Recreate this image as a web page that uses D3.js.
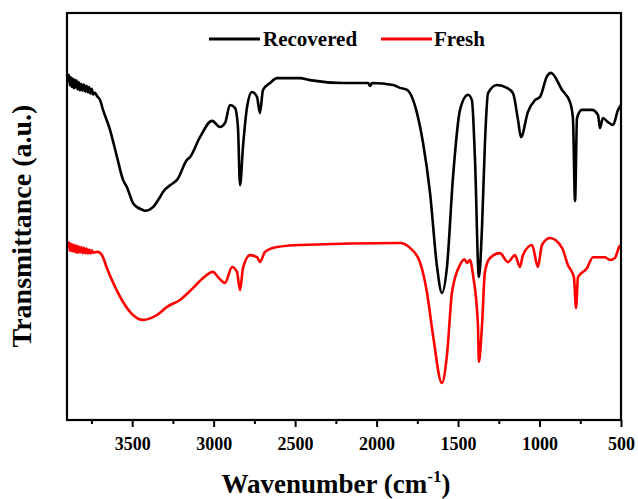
<!DOCTYPE html>
<html><head><meta charset="utf-8">
<script src="https://cdn.jsdelivr.net/npm/d3@7"></script>
<style>body{margin:0;background:#fff}svg{display:block}</style>
</head><body>
<svg id="c" width="638" height="499"></svg>
<script>
// Wavenumber (cm-1) and transmittance (a.u.)
const recoveredWn = [3894,3888,3882,3876,3870,3864,3858,3852,3846,3840,3834,3828,3820,3812,3804,3796,3788,3780,3772,3764,3756,3748,3740,3728,3716,3697,3679,3636,3593,3556,3532,3495,3470,3434,3421,3372,3329,3311,3249,3225,3164,3145,3084,3010,2961,2930,2900,2869,2851,2838,2820,2795,2765,2734,2716,2697,2654,2611,2470,2409,2206,2052,2040,2028,1899,1856,1813,1752,1715,1672,1629,1599,1568,1531,1488,1439,1415,1396,1372,1353,1335,1316,1261,1200,1163,1132,1114,1071,1028,997,954,930,862,813,795,782,770,740,678,641,629,611,580,549,518,500];
const recoveredT = [83.0,84.8,82.2,84.2,81.8,83.9,81.5,83.6,81.7,83.4,81.2,83.0,81.0,82.6,80.9,82.4,80.7,82.1,80.5,81.8,80.2,81.4,80.0,80.4,79.6,78.6,76.2,71.3,64.6,59.0,57.2,53.3,52.3,51.6,51.4,52.3,54.8,56.0,58.2,59.0,63.9,64.6,69.5,73.5,72.0,73.0,77.4,76.7,72.0,57.7,67.1,76.9,80.6,79.4,75.4,81.1,82.8,84.0,84.0,83.5,82.8,82.8,82.1,82.8,82.3,81.6,81.1,75.4,68.1,55.8,37.6,31.2,37.6,59.7,76.2,79.9,78.6,63.9,35.1,47.4,68.1,80.3,82.3,81.6,80.3,73.7,69.5,75.7,78.6,79.4,84.5,85.3,81.1,78.1,74.2,53.8,74.2,76.2,76.2,74.9,71.7,74.2,73.2,72.5,76.2,77.4];
const freshWn = [3894,3888,3882,3876,3870,3864,3858,3852,3846,3840,3834,3828,3820,3812,3804,3796,3788,3780,3772,3764,3756,3748,3740,3712,3685,3655,3605,3556,3495,3434,3348,3286,3207,3127,3065,3004,2973,2930,2887,2857,2838,2820,2777,2734,2716,2685,2611,2470,1856,1795,1734,1691,1654,1599,1568,1537,1488,1460,1445,1427,1408,1378,1372,1353,1335,1304,1243,1194,1151,1120,1102,1046,1010,985,936,862,826,789,776,764,709,672,598,568,537,512,500];
const freshT = [42.3,43.6,41.6,43.3,41.5,43.1,41.4,42.9,41.2,42.8,41.1,42.6,41.2,42.5,41.0,42.3,41.0,42.1,40.9,41.9,40.9,41.7,41.1,41.3,40.5,37.3,32.7,29.0,25.8,24.6,25.8,27.8,29.5,32.4,34.9,36.4,35.1,33.7,37.6,36.4,31.9,37.3,40.5,40.0,38.8,41.3,42.5,43.0,43.5,42.3,38.8,31.4,20.9,9.1,16.0,31.4,38.1,39.5,38.6,39.3,35.6,23.3,14.3,23.3,36.4,39.8,41.0,38.8,40.5,37.6,40.5,43.0,37.6,43.0,44.7,42.3,38.1,35.1,27.5,35.1,37.3,40.0,40.0,39.3,39.8,42.5,43.0];
const xTicks = [3500,3000,2500,2000,1500,1000,500];
const xMinorTicks = [3750,3250,2750,2250,1750,1250,750];
const seriesNames = ["Recovered","Fresh"];
const seriesColors = ["#000000","#ff0000"];

const svg = d3.select("#c");
const L=67, R=621, T=13, B=420;
const x = d3.scaleLinear().domain([3900,500]).range([L,R]);
const y = d3.scaleLinear().domain([0,100]).range([B,T]);
const font = "'Liberation Serif','Times New Roman',serif";

const series = [
  {name:seriesNames[0], color:seriesColors[0], pts:recoveredWn.map((w,i)=>[w,recoveredT[i]])},
  {name:seriesNames[1], color:seriesColors[1], pts:freshWn.map((w,i)=>[w,freshT[i]])}
];
const line = d3.line().x(d=>x(d[0])).y(d=>y(d[1])).curve(d3.curveMonotoneX);
svg.append("clipPath").attr("id","cp").append("rect").attr("x",L).attr("y",T).attr("width",R-L).attr("height",B-T);
const g = svg.append("g").attr("clip-path","url(#cp)");
[series[1],series[0]].forEach(s=>{
  g.append("path").datum(s.pts).attr("d",line).attr("fill","none")
   .attr("stroke",s.color).attr("stroke-width",2.6).attr("stroke-linejoin","round");
});

// frame
svg.append("rect").attr("x",L).attr("y",T).attr("width",R-L).attr("height",B-T)
  .attr("fill","none").attr("stroke","#000").attr("stroke-width",2.2);

// x axis
const ax = svg.append("g").attr("transform",`translate(0,${B})`)
  .call(d3.axisBottom(x).tickValues(xTicks).tickSize(7).tickPadding(10).tickFormat(d3.format("d")));
ax.select(".domain").remove();
ax.selectAll(".tick line").attr("stroke","#000").attr("stroke-width",2);
ax.selectAll(".tick text").attr("font-family",font).attr("font-weight","bold")
  .attr("font-size",18).attr("fill","#000");
const axm = svg.append("g").attr("transform",`translate(0,${B})`)
  .call(d3.axisBottom(x).tickValues(xMinorTicks).tickSize(4).tickFormat(""));
axm.select(".domain").remove();
axm.selectAll(".tick line").attr("stroke","#000").attr("stroke-width",2);

// axis titles
const xt = svg.append("text").attr("x",336).attr("y",493).attr("text-anchor","middle")
  .attr("font-family",font).attr("font-weight","bold").attr("font-size",27).attr("fill","#000");
xt.append("tspan").text("Wavenumber (cm");
xt.append("tspan").attr("font-size",17).attr("dy",-11).text("-1");
xt.append("tspan").attr("dy",11).text(")");

svg.append("text").attr("transform","translate(31,226) rotate(-90)").attr("text-anchor","middle")
  .attr("font-family",font).attr("font-weight","bold").attr("font-size",28).attr("fill","#000")
  .text("Transmittance (a.u.)");

// legend
const leg = [{x0:209,x1:260,tx:263},{x0:381,x1:432,tx:434}];
series.forEach((s,i)=>{
  svg.append("line").attr("x1",leg[i].x0).attr("x2",leg[i].x1).attr("y1",39).attr("y2",39)
    .attr("stroke",s.color).attr("stroke-width",3);
  svg.append("text").attr("x",leg[i].tx).attr("y",46).attr("font-family",font)
    .attr("font-weight","bold").attr("font-size",21).attr("fill","#000").text(s.name);
});
</script>
</body></html>
